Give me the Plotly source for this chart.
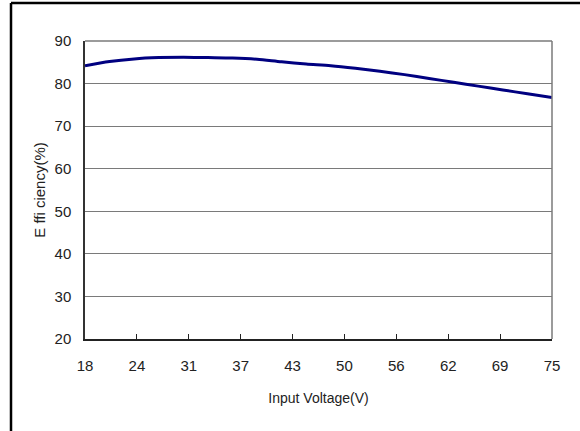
import plotly.graph_objects as go

# input voltage (V) and efficiency (%)
voltage = [18, 21, 24, 27, 30, 33, 36, 39, 42, 45, 48, 51, 54, 57, 60, 63, 66, 69, 72, 75]
efficiency = [84.2, 85.2, 85.8, 86.1, 86.2, 86.1, 86.0, 85.7, 85.1, 84.6,
              84.2, 83.6, 82.9, 82.1, 81.2, 80.3, 79.4, 78.5, 77.6, 76.7]

x_labels = ["18", "24", "31", "37", "43", "50", "56", "62", "69", "75"]
x_ticks = [18 + i * (75 - 18) / 9 for i in range(len(x_labels))]
y_ticks = [20, 30, 40, 50, 60, 70, 80, 90]

font = dict(family="Liberation Sans, Arial, sans-serif", size=15, color="#222222")

L, T, R, B = 85, 41, 28, 92
pw, ph = 580 - L - R, 431 - T - B

fig = go.Figure()
fig.add_trace(go.Scatter(
    x=voltage, y=efficiency, mode="lines",
    line=dict(color="#000080", width=3, shape="spline", smoothing=0.8),
    showlegend=False, hoverinfo="x+y",
))

fig.update_layout(
    width=580, height=431,
    margin=dict(l=L, r=R, t=T, b=B),
    paper_bgcolor="white", plot_bgcolor="white",
    font=font,
    xaxis=dict(
        range=[18, 75], tickmode="array", tickvals=x_ticks, ticktext=x_labels,
        ticks="inside", ticklen=5, tickcolor="#222222", ticklabelstandoff=12,
        showgrid=False, zeroline=False,
        showline=True, linecolor="#222222", linewidth=1.5,
        title=dict(text="Input Voltage(V)", standoff=20, font=dict(size=14)),
    ),
    yaxis=dict(
        range=[20, 90], tickmode="array", tickvals=y_ticks,
        ticks="", ticklabelstandoff=9,
        showgrid=True, gridcolor="#7a7a7a", gridwidth=1.2,
        zeroline=False,
        showline=True, linecolor="#333333", linewidth=1.5,
        title=dict(text="E ffi ciency(%)", standoff=5, font=dict(size=15)),
    ),
    shapes=[
        # grey frame on top and right of plot area
        dict(type="line", xref="paper", yref="paper", x0=0, x1=1, y0=1, y1=1,
             line=dict(color="#7a7a7a", width=1.5)),
        dict(type="line", xref="paper", yref="paper", x0=1, x1=1, y0=0, y1=1,
             line=dict(color="#7a7a7a", width=1.5)),
        # outer black border of the picture (left and top edges)
        dict(type="line", xref="paper", yref="paper",
             x0=(11 - L) / pw, x1=(11 - L) / pw,
             y0=-(B + 10) / ph, y1=1 + (T - 3) / ph,
             line=dict(color="black", width=2.5)),
        dict(type="line", xref="paper", yref="paper",
             x0=(11 - L) / pw, x1=1 + (R + 10) / pw,
             y0=1 + (T - 3) / ph, y1=1 + (T - 3) / ph,
             line=dict(color="black", width=2.5)),
    ],
)

# drop the default page margin so the figure sits at the window corner
fig.write_html("out.html", config={"displayModeBar": False},
               post_script="document.body.style.margin='0';")
